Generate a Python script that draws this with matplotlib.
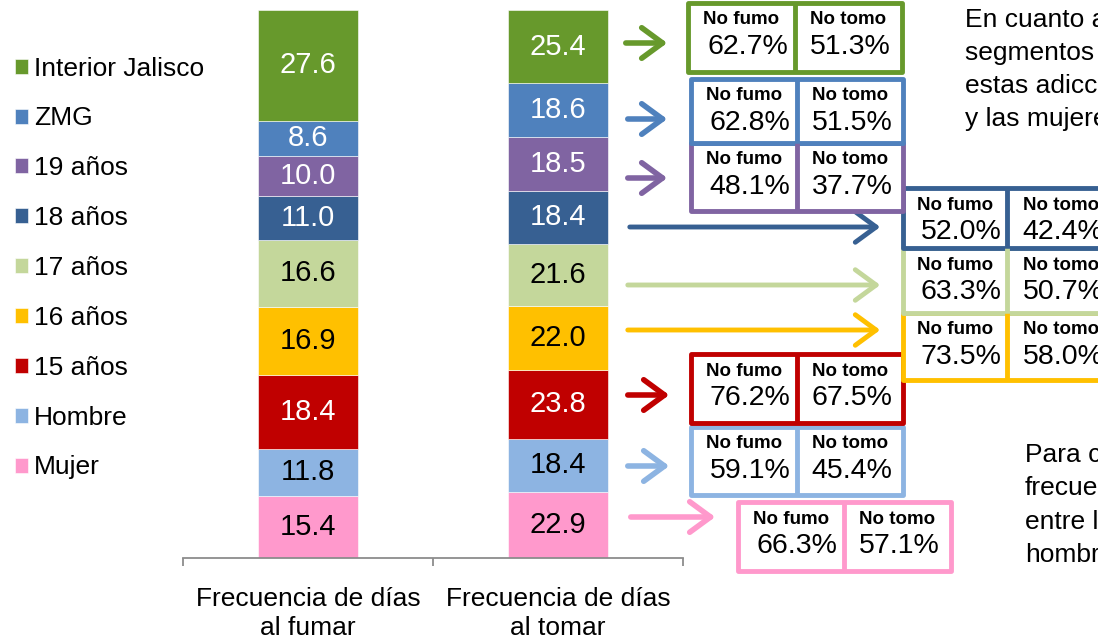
import numpy as np
import matplotlib
matplotlib.use('Agg')
from matplotlib import pyplot as plt
from matplotlib.patches import Rectangle, FancyArrowPatch

plt.rcParams['font.family'] = ['Liberation Sans', 'DejaVu Sans']

# Data, bottom of the stack first
SEGMENTS = ['Mujer', 'Hombre', '15 años', '16 años', '17 años',
            '18 años', '19 años', 'ZMG', 'Interior Jalisco']
FUMAR = [15.4, 11.8, 18.4, 16.9, 16.6, 11.0, 10.0, 8.6, 27.6]
TOMAR = [22.9, 18.4, 23.8, 22.0, 21.6, 18.4, 18.5, 18.6, 25.4]
NO_FUMO = [66.3, 59.1, 76.2, 73.5, 63.3, 52.0, 48.1, 62.8, 62.7]
NO_TOMO = [57.1, 45.4, 67.5, 58.0, 50.7, 42.4, 37.7, 51.5, 51.3]
CATEGORIES = ['Frecuencia de días\nal fumar', 'Frecuencia de días\nal tomar']

COLORS = ['#FF99CC', '#8DB4E2', '#C00000', '#FFC000', '#C4D79B',
          '#376092', '#8064A2', '#4F81BD', '#67992C']
WHITE_TEXT = [False, False, True, False, False, True, True, True, True]

# Layout of the callout boxes, in figure pixels (x0, y0, x1, y1, divider, arrow x0, arrow x1, arrow y)
BOXES = [
    (738, 502, 951, 571, 844, 628, 718, 517),
    (691, 427, 903, 495, 797, 625, 672, 466),
    (691, 354, 903, 423, 797, 625, 672, 395),
    (903, 313, 1115, 380, 1007, 625, 883, 330),
    (903, 248, 1115, 313, 1007, 625, 883, 285),
    (903, 188, 1115, 248, 1007, 627, 883, 227),
    (691, 143, 903, 211, 797, 625, 670, 178),
    (691, 79, 903, 143, 797, 625, 670, 119),
    (688, 3, 902, 72, 795, 623, 670, 43),
]

W, H = 1098, 640


def main():
    fig = plt.figure(figsize=(W / 100, H / 100), dpi=100)
    ax = fig.add_axes([183 / W, 82 / H, 500 / W, 548 / H])

    data = np.array([FUMAR, TOMAR]).T
    shares = data / data.sum(axis=0) * 100
    x = np.arange(2)
    bottom = np.zeros(2)
    handles = []
    for i, name in enumerate(SEGMENTS):
        bars = ax.bar(x, shares[i], 0.4, bottom=bottom, color=COLORS[i],
                      edgecolor='white', linewidth=0.4, label=name)
        handles.append(bars)
        tc = 'white' if WHITE_TEXT[i] else 'black'
        for j in range(2):
            ax.text(x[j], bottom[j] + shares[i][j] / 2, '%.1f' % data[i][j],
                    ha='center', va='center', fontsize=21, color=tc)
        bottom += shares[i]

    ax.set_xlim(-0.5, 1.5)
    ax.set_ylim(0, 100)
    for s in ['left', 'right', 'top']:
        ax.spines[s].set_visible(False)
    ax.spines['bottom'].set_color('#8C8C8C')
    ax.spines['bottom'].set_linewidth(1.3)
    ax.set_yticks([])
    ax.set_xticks([-0.5, 0.5, 1.5])
    ax.xaxis.set_major_formatter(matplotlib.ticker.NullFormatter())
    ax.tick_params(axis='x', which='major', length=6, width=1.3, color='#8C8C8C')
    ax.set_xticks(x, minor=True)
    ax.set_xticklabels(CATEGORIES, minor=True, fontsize=19, linespacing=1.25)
    ax.tick_params(axis='x', which='minor', length=0, pad=21)

    # Legend, top entry first
    fig.legend(handles[::-1], SEGMENTS[::-1], loc='center left',
               bbox_to_anchor=(15 / W, 1 - 268 / H), frameon=False,
               fontsize=19, handlelength=0.5, handleheight=0.5,
               handletextpad=0.22, labelspacing=0.98, borderpad=0, borderaxespad=0)

    # Overlay in pixel coordinates for boxes, arrows and side text
    ov = fig.add_axes([0, 0, 1, 1], facecolor='none')
    ov.set_xlim(0, W)
    ov.set_ylim(H, 0)
    ov.axis('off')

    for i, (x0, y0, x1, y1, xd, ax0, ax1, ay) in enumerate(BOXES):
        c = COLORS[i]
        ov.add_patch(Rectangle((x0, y0), x1 - x0, y1 - y0, facecolor='white',
                               edgecolor=c, linewidth=3.5, joinstyle='round'))
        ov.plot([xd, xd], [y0, y1], color=c, lw=3.5, solid_capstyle='butt')
        for cx, dx, head, val in [((x0 + xd) / 2, 6, 'No fumo', NO_FUMO[i]),
                                  ((xd + x1) / 2, 2, 'No tomo', NO_TOMO[i])]:
            ov.text(cx, y0 + 17, head, ha='center', va='center',
                    fontsize=13.5, fontweight='bold')
            ov.text(cx + dx, y0 + 44, '%.1f%%' % val, ha='center', va='center',
                    fontsize=20.5)
        lw = 3.5 if ax1 - ax0 > 100 else 4
        ov.add_patch(FancyArrowPatch((ax0, ay), (ax1, ay),
                                     arrowstyle='->,head_length=0.75,head_width=0.55',
                                     mutation_scale=20, color=c, lw=lw,
                                     capstyle='round', joinstyle='round'))

    top_lines = ['En cuanto a los', 'segmentos de', 'estas adicciones', 'y las mujeres']
    for k, t in enumerate(top_lines):
        ov.text(965, 20 + 33 * k, t, ha='left', va='center', fontsize=19)
    bottom_lines = ['Para cada', 'frecuencia', 'entre los', 'hombres']
    for k, t in enumerate(bottom_lines):
        ov.text(1025, 455 + 33.3 * k, t, ha='left', va='center', fontsize=19)

    fig.savefig('out.png', dpi=100)


if __name__ == '__main__':
    main()
